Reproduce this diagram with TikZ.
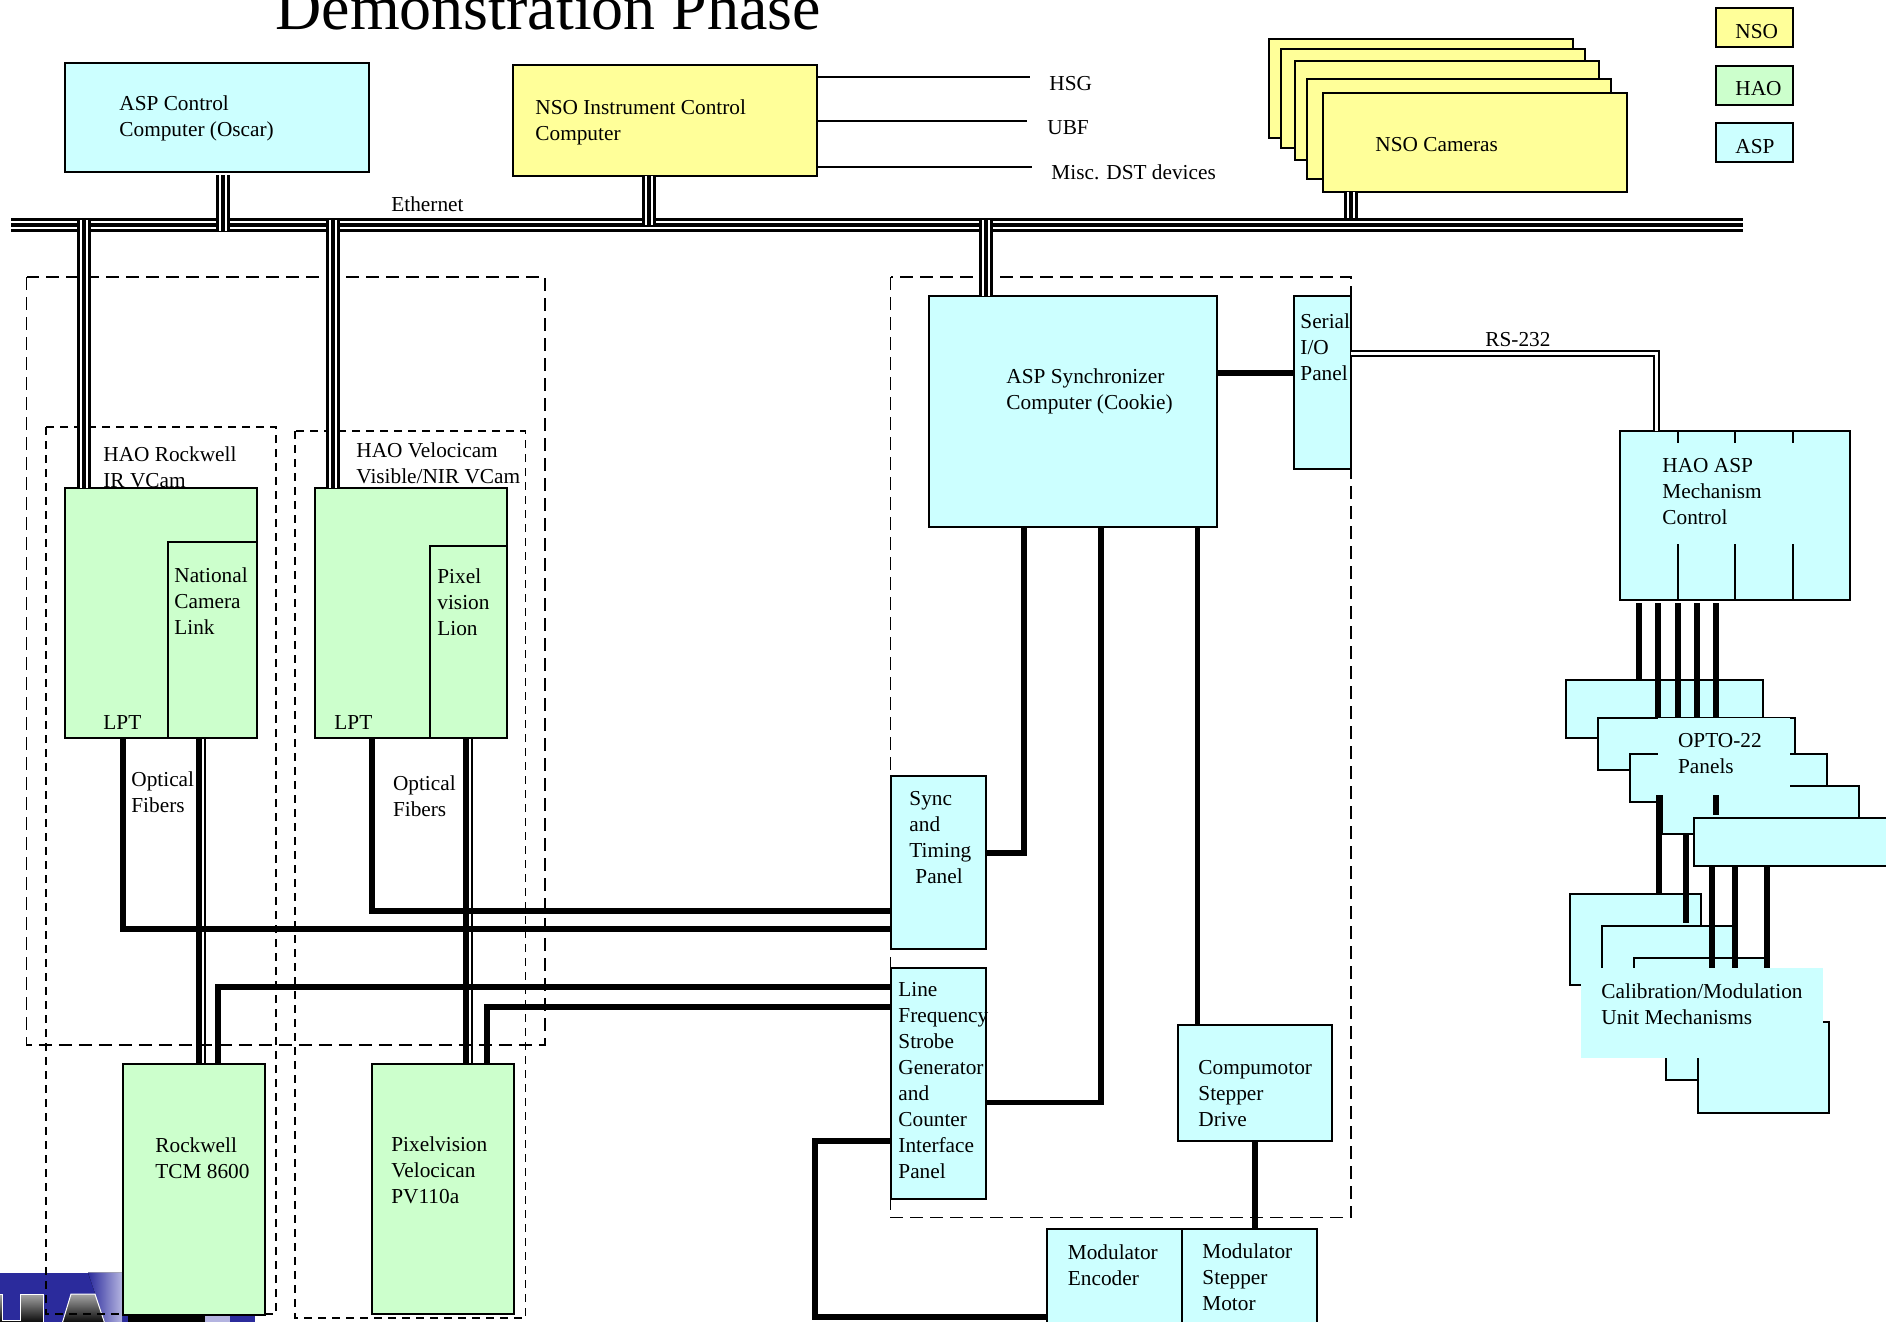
\documentclass[tikz,border=0pt]{standalone}
\usepackage{fontspec}
\setmainfont{Liberation Serif}
\definecolor{aspblue}{HTML}{CCFFFF}
\definecolor{haogreen}{HTML}{CCFFCC}
\definecolor{nsoyellow}{HTML}{FFFF99}
\definecolor{logoblue}{HTML}{2B2B9C}
\definecolor{logolight}{HTML}{B4B4E0}

\begin{document}
\begin{tikzpicture}[x=.5pt, y=-.5pt,
  basebox/.style 2 args={draw, line width=1pt, rectangle, anchor=north west, inner sep=0pt, outer sep=0pt, minimum width=#1*.5pt, minimum height=#2*.5pt},
  aspbox/.style 2 args={basebox={#1}{#2}, fill=aspblue},
  haobox/.style 2 args={basebox={#1}{#2}, fill=haogreen},
  nsobox/.style 2 args={basebox={#1}{#2}, fill=nsoyellow},
  plainbox/.style 2 args={rectangle, anchor=north west, inner sep=0pt, outer sep=0pt, fill=aspblue, minimum width=#1*.5pt, minimum height=#2*.5pt},
  txt/.style={anchor=west, inner sep=0pt, align=left, font=\fontsize{10.65}{13}\selectfont},
  title/.style={anchor=base west, inner sep=0pt, font=\fontsize{32}{36}\selectfont},
  groupdash/.style={draw, line width=.9pt, dash pattern=on 6.5pt off 3.5pt},
  camdash/.style={draw, line width=.9pt, dash pattern=on 4pt off 3pt},
  triple/.style={line width=2.4pt, preaction={draw, line width=7.4pt}, preaction={draw, white, line width=4.4pt}},
  wire/.style={line width=2.9pt, miter limit=10},
  heavywire/.style={line width=3pt},
  slimwire/.style={line width=1pt},
  thinline/.style={line width=.75pt}
]
\useasboundingbox (0,0) rectangle (1886,1322);

% logo, bottom left
\fill[logoblue] (0,1272.7) rectangle (255,1322);
\fill[left color=logoblue, right color=logolight] (88,1272.7) -- (122,1272.7) -- (122,1322) -- (105,1322) -- cycle;
\fill[logolight] (205,1315) rectangle (230,1322);
\fill[black] (128,1315) rectangle (205,1322);
\draw[white, line width=.5pt, top color=gray!70, bottom color=black] (-2,1294) -- (2,1294) -- (2,1320) -- (20,1320) -- (20,1294) -- (43,1294) -- (43,1324) -- (-2,1324) -- cycle;
\draw[white, line width=.5pt, top color=gray!70, bottom color=black] (62,1324) -- (71,1294) -- (95,1294) -- (105,1324) -- cycle;

\node[title] (main_title) at (275,30) {Demonstration Phase};

% legend
\node[nsobox={77}{39}] (key_nso) at (1716,8) {};
\node[haobox={77}{39}] (key_hao) at (1716,66) {};
\node[aspbox={77}{39}] (key_asp) at (1716,123.5) {};
\node[txt] (key_nso_txt) at (1735,31.6) {NSO};
\node[txt] (key_hao_txt) at (1735,88.5) {HAO};
\node[txt] (key_asp_txt) at (1735,147) {ASP};

% dashed groups
\draw[groupdash] (26.5,277) rectangle (545,1044.6);
\draw[groupdash] (890.5,277) rectangle (1351,1217.5);
\draw[camdash] (46,427) rectangle (276,1314);
\draw[camdash] (295,431) rectangle (525.5,1318);

% ethernet
\node[aspbox={304}{109.5}] (asp_ctrl) at (65,63) {};
\node[nsobox={304}{111}] (nso_instr) at (513,65) {};
\node[nsobox={304}{99}] (cam_a) at (1269,39) {};
\node[nsobox={304}{99}] (cam_b) at (1281,49) {};
\node[nsobox={304}{99}] (cam_c) at (1295,61) {};
\node[nsobox={304}{100}] (cam_d) at (1307,79) {};
\node[nsobox={304}{99}] (cam_e) at (1323,93) {};
\coordinate (bus_west) at (11,225);
\coordinate (bus_east) at (1743,225);
\draw[triple] (bus_west) -- (bus_east);
\node[txt] (bus_txt) at (391,204) {Ethernet};
\node[txt] (asp_ctrl_txt) at (119,118) {ASP Control\\Computer (Oscar)};
\node[txt] (nso_instr_txt) at (535,122) {NSO Instrument Control\\Computer};
\node[txt] (cam_txt) at (1375,145) {NSO Cameras};

\coordinate (hsg_end) at (1030,77);
\coordinate (ubf_end) at (1027,121);
\coordinate (misc_end) at (1032,167);
\draw[thinline] (nso_instr.east |- hsg_end) -- (hsg_end);
\draw[thinline] (nso_instr.east |- ubf_end) -- (ubf_end);
\draw[thinline] (nso_instr.east |- misc_end) -- (misc_end);
\node[txt] (hsg_txt) at (1049,84) {HSG};
\node[txt] (ubf_txt) at (1047,128) {UBF};
\node[txt] (misc_txt) at (1051,172) {Misc. DST devices};

% HAO cameras
\node[txt] (rw_txt) at (103,467) {HAO Rockwell\\IR VCam};
\node[txt] (vc_txt) at (356,463) {HAO Velocicam\\Visible/NIR VCam};
\node[haobox={192}{250}] (rw_vcam) at (65,488) {};
\node[haobox={192.5}{250}] (vc_vcam) at (314.5,488) {};
\node[haobox={89}{196}] (nat_link) at (168,542) {};
\node[haobox={77}{192}] (pix_lion) at (430,546) {};
\node[txt] (nat_txt) at (174,601) {National\\Camera\\Link};
\node[txt] (pix_txt) at (437,602) {Pixel\\vision\\Lion};
\node[txt] (lpt_a) at (103,723) {LPT};
\node[txt] (lpt_b) at (334,723) {LPT};
\node[txt] (opt_a) at (131,792) {Optical\\Fibers};
\node[txt] (opt_b) at (392.6,796) {Optical\\Fibers};
\node[haobox={142}{250.5}] (rw_head) at (122.5,1064) {};
\node[haobox={142.5}{250}] (pv_head) at (371.6,1064) {};
\node[txt] (rw_head_txt) at (155,1158) {Rockwell\\TCM 8600};
\node[txt] (pv_head_txt) at (391,1170) {Pixelvision\\Velocican\\PV110a};

\draw[triple] (asp_ctrl.south -| 223,0) ++(0,3) -- (223,231);
\draw[triple] (nso_instr.south -| 649,0) -- (649,225);
\draw[triple] (cam_e.south -| 1351,0) -- (1351,218);
\draw[triple] (84,220) -- (84,0 |- rw_vcam.north);
\draw[triple] (333,220) -- (333,0 |- vc_vcam.north);

% synchronizer group
\node[aspbox={288.5}{230.5}] (sync_pc) at (928.5,296) {};
\node[aspbox={57.5}{173}] (serial_io) at (1293.5,296) {};
\node[aspbox={95.5}{173}] (sync_panel) at (890.5,776) {};
\node[aspbox={95.5}{230.5}] (line_panel) at (890.5,968) {};
\node[aspbox={154}{116}] (step_drive) at (1178,1025) {};
\node[aspbox={135}{120}] (mod_enc) at (1047,1229) {};
\node[aspbox={134.5}{120}] (mod_mot) at (1182,1229) {};
\node[txt] (sync_pc_txt) at (1006,391) {ASP Synchronizer\\Computer (Cookie)};
\node[txt] (serial_txt) at (1300,347) {Serial\\I/O\\Panel};
\node[txt] (sync_txt) at (909,838) {Sync\\and\\Timing\\\hspace*{3pt}Panel};
\node[txt] (line_txt) at (898,1081) {Line\\Frequency\\Strobe\\Generator\\and\\Counter\\Interface\\Panel};
\node[txt] (step_txt) at (1198,1093.5) {Compumotor\\Stepper\\Drive};
\node[txt] (enc_txt) at (1067.5,1265) {Modulator\\Encoder};
\node[txt] (mot_txt) at (1202,1277.5) {Modulator\\Stepper\\Motor};

\draw[triple] (986,220) -- (986,0 |- sync_pc.north);
\draw[heavywire] (sync_pc.east |- 0,373) -- (serial_io.west |- 0,373);
\draw[wire] (1024,0 |- sync_pc.south) |- (sync_panel.east |- 0,853);
\draw[wire] (1101,0 |- sync_pc.south) |- (line_panel.east |- 0,1102.4);
\draw[wire] (1197.4,0 |- sync_pc.south) -- (1197.4,0 |- step_drive.north);
\draw[wire] (step_drive.south) ++(0,0) -- (1255,0 |- mod_mot.north);

% camera wires
\draw[wire] (123,0 |- rw_vcam.south) |- (sync_panel.west |- 0,929);
\draw[wire] (372,0 |- vc_vcam.south) |- (sync_panel.west |- 0,910.6);
\draw[heavywire] (199.3,0 |- rw_vcam.south) -- (199.3,0 |- rw_head.north);
\draw[slimwire] (205,0 |- rw_vcam.south) -- (205,0 |- rw_head.north);
\draw[heavywire] (465.7,0 |- vc_vcam.south) -- (465.7,0 |- pv_head.north);
\draw[slimwire] (472,0 |- vc_vcam.south) -- (472,0 |- pv_head.north);
\draw[wire] (218,0 |- rw_head.north) |- (line_panel.west |- 0,987);
\draw[wire] (487,0 |- pv_head.north) |- (line_panel.west |- 0,1007);
\draw[wire] (line_panel.west |- 0,1141) -| (815,1316.6) -- (mod_enc.west |- 0,1316.6);

% RS-232 and mechanism control
\node[aspbox={230.5}{169}] (hao_asp) at (1619.5,430.5) {};
\node[txt] (hao_asp_txt) at (1662,492) {HAO ASP\\Mechanism\\Control};
\draw[line width=1pt, double=white, double distance=1.4pt] (serial_io.east |- 0,353.5) -| (1656.5,0 |- hao_asp.north);
\node[txt] (rs_txt) at (1485,339.5) {RS-232};
\draw[thinline] (1678,0 |- hao_asp.north) -- (1678,442.7);
\draw[thinline] (1735,0 |- hao_asp.north) -- (1735,442.7);
\draw[thinline] (1793,0 |- hao_asp.north) -- (1793,442.7);
\draw[thinline] (1678,544) -- (1678,0 |- hao_asp.south);
\draw[thinline] (1735,544) -- (1735,0 |- hao_asp.south);
\draw[thinline] (1793,544) -- (1793,0 |- hao_asp.south);

% OPTO-22 stack
\node[aspbox={197.3}{57.7}] (opto_a) at (1565.7,680) {};
\draw[heavywire, shorten <=1.75pt] (1639,0 |- hao_asp.south) -- (1639,0 |- opto_a.north);
\draw[heavywire, shorten <=1.75pt] (1658,0 |- hao_asp.south) -- (1658,717.7);
\draw[heavywire, shorten <=1.75pt] (1677.5,0 |- hao_asp.south) -- (1677.5,717.7);
\draw[heavywire, shorten <=1.75pt] (1696.7,0 |- hao_asp.south) -- (1696.7,717.7);
\draw[heavywire, shorten <=1.75pt] (1716,0 |- hao_asp.south) -- (1716,717.7);
\node[aspbox={197.3}{52.3}] (opto_b) at (1597.7,717.7) {};
\node[aspbox={197.3}{47.7}] (opto_c) at (1629.7,754) {};
\node[aspbox={197}{47.7}] (opto_d) at (1662,786) {};
\node[aspbox={197}{47.7}] (opto_e) at (1693.7,818) {};
\node[plainbox={132}{77.5}] (opto_lbl) at (1658,717.5) {};
\node[txt] (opto_txt) at (1677.7,754) {OPTO-22\\Panels};

% calibration stack
\node[aspbox={131}{91}] (cal_a) at (1570,894) {};
\node[aspbox={131}{91}] (cal_b) at (1602,926) {};
\node[aspbox={131}{91}] (cal_c) at (1634,958) {};
\node[aspbox={131}{90}] (cal_d) at (1666,990) {};
\node[aspbox={131}{91}] (cal_e) at (1698,1022) {};
\draw[heavywire] (1659,0 |- opto_lbl.south) -- (1659,0 |- cal_a.north);
\coordinate (short_end) at (1686,923);
\coordinate (stub_end) at (1716,814.7);
\draw[heavywire] (1716,0 |- opto_lbl.south) -- (stub_end);
\draw[heavywire] (1686,0 |- opto_d.south) -- (short_end);
\draw[heavywire] (1712.3,0 |- opto_e.south) -- (1712.3,968);
\draw[heavywire] (1735,0 |- opto_e.south) -- (1735,968);
\draw[heavywire] (1766.7,0 |- opto_e.south) -- (1766.7,968);
\node[plainbox={242}{90}] (cal_lbl) at (1581,968) {};
\node[txt] (cal_txt) at (1601,1004) {Calibration/Modulation\\Unit Mechanisms};

\end{tikzpicture}
\end{document}
